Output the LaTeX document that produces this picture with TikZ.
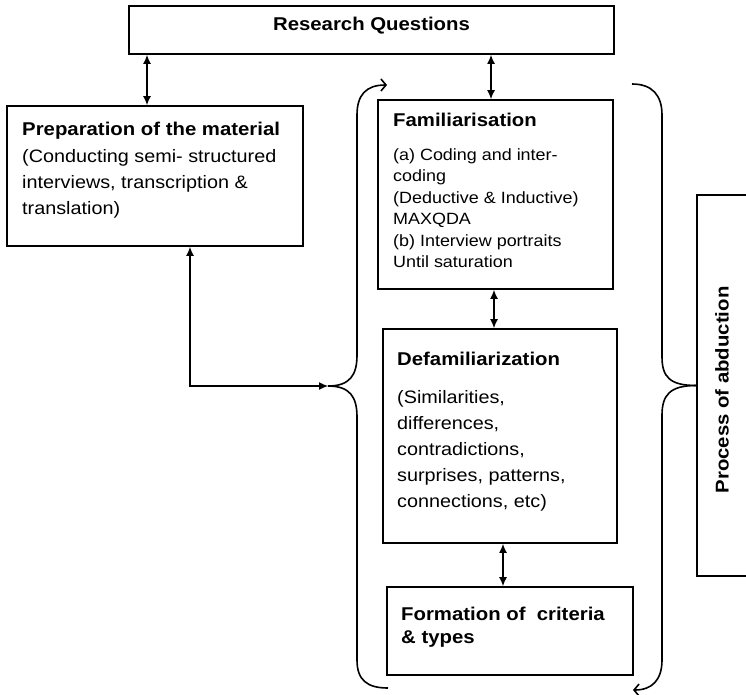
\documentclass[tikz,border=0pt]{standalone}
\usepackage{fontspec}
\setmainfont{Liberation Sans}[FakeStretch=1.1]
\usetikzlibrary{arrows.meta}
\tikzset{
 box/.style={draw, line width=1.8pt, inner sep=0pt, rectangle},
 lnk/.style={line width=1.2pt, {Latex[length=9pt,width=8pt]}-{Latex[length=9pt,width=8pt]}},
 brc/.style={line width=1.6pt},
 barb/.style={-{Straight Barb[length=5pt,width=12pt,line width=1.6pt]}},
 ttl/.style={font=\fontsize{18.5}{23}\selectfont\bfseries, anchor=base west, inner sep=0pt, align=left},
 bdy/.style={font=\fontsize{18}{26}\selectfont, anchor=base west, inner sep=0pt, align=left},
 fbdy/.style={font=\fontsize{16.3}{21.5}\selectfont, anchor=base west, inner sep=0pt, align=left},
}
\begin{document}
\begin{tikzpicture}[x=1pt,y=1pt]
\useasboundingbox (0,0) rectangle (746,-694);
\clip (0,0) rectangle (746,-694);
% boxes
\node[box, minimum width=485pt, minimum height=48pt] (rq) at (371.5,-30) {};
\node[box, minimum width=296pt, minimum height=140pt] (prep) at (155,-176) {};
\node[box, minimum width=235pt, minimum height=189pt] (fam) at (495.5,-194.5) {};
\node[box, minimum width=234pt, minimum height=214pt] (def) at (500,-436) {};
\node[box, minimum width=246pt, minimum height=88pt] (form) at (510,-631) {};
\node[box, minimum width=90pt, minimum height=381pt] (abd) at (742,-385.5) {};
% texts (base anchor = baseline of the last line)
\node[font=\fontsize{18.5}{23}\selectfont\bfseries, anchor=base, inner sep=0pt] (rqt) at (371.5,-30.7) {Research Questions};
\node[ttl] (prept) at (22,-135) {Preparation of the material};
\node[bdy] (prepb) at (22,-214) {(Conducting semi- structured\\interviews, transcription \&\\translation)};
\node[ttl] (famt) at (393,-126) {Familiarisation};
\node[fbdy] (famb) at (393,-267.5) {(a) Coding and inter-\\coding\\(Deductive \& Inductive)\\MAXQDA\\(b) Interview portraits\\Until saturation};
\node[ttl] (deft) at (397,-365) {Defamiliarization};
\node[bdy] (defb) at (397,-507) {(Similarities,\\differences,\\contradictions,\\surprises, patterns,\\connections, etc)};
\node[ttl] (formt) at (401,-643) {Formation of\ \ criteria\\\& types};
\node[font=\fontsize{18.5}{23}\selectfont\bfseries, rotate=90, inner sep=0pt] (abdt) at (722,-390) {Process of abduction};
% connectors
\draw[lnk] (147,0 |- rq.south) -- (147,0 |- prep.north);
\draw[lnk] (491,0 |- rq.south) -- (491,0 |- fam.north);
\draw[lnk] (494,0 |- fam.south) -- (494,0 |- def.north);
\draw[lnk] (503,0 |- def.south) -- (503,0 |- form.north);
\coordinate (ltip) at (328,-386);
\draw[lnk] (190,0 |- prep.south) |- (ltip);
% left brace
\draw[brc, barb] (ltip) .. controls (350,-386) and (357,-375) .. (357,-355) -- (357,-115) .. controls (357,-95) and (366,-85) .. (387,-85);
\draw[brc] (ltip) .. controls (350,-386) and (357,-397) .. (357,-417) -- (357,-660) .. controls (357,-680) and (367,-688) .. (388,-688);
% right brace
\coordinate (rtip) at (abd.west);
\draw[brc] (632,-84) .. controls (652,-84) and (662,-95) .. (662,-115) -- (662,-357) .. controls (662,-377) and (670,-385.5) .. (rtip);
\draw[brc, barb] (rtip) .. controls (670,-385.5) and (662,-395) .. (662,-415) -- (662,-660) .. controls (662,-680) and (652,-690) .. (633,-690);
\end{tikzpicture}
\end{document}
